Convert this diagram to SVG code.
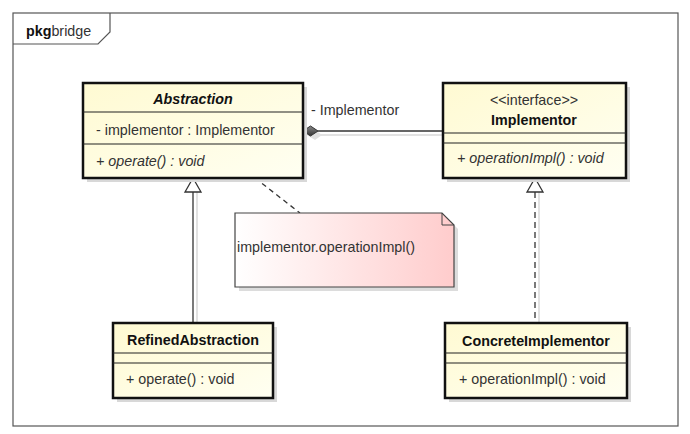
<svg xmlns="http://www.w3.org/2000/svg" width="690" height="434" viewBox="0 0 690 434">
<defs>
<linearGradient id="cls" x1="0" y1="0" x2="1" y2="1">
<stop offset="0" stop-color="#fffad2"/>
<stop offset="1" stop-color="#fffff2"/>
</linearGradient>
<linearGradient id="note" x1="0" y1="0" x2="1" y2="0">
<stop offset="0" stop-color="#ffffff"/>
<stop offset="1" stop-color="#ffcccc"/>
</linearGradient>
<linearGradient id="dia" x1="0" y1="0" x2="0" y2="1">
<stop offset="0" stop-color="#888"/>
<stop offset="1" stop-color="#333"/>
</linearGradient>
</defs>
<style>
text{font-family:"Liberation Sans",Arial,sans-serif;font-size:14.3px;fill:#333}
.name{font-weight:bold;fill:#111;text-anchor:middle}
.it{font-style:italic}
.mid{text-anchor:middle}
.box{fill:url(#cls);stroke:#111;stroke-width:2.5}
.sh{fill:#d8d8d8}
.sep{stroke:#222;stroke-width:1.2}
.ln{stroke:#333;stroke-width:1.3;fill:none}
.lsh{stroke:#e2e2e2;stroke-width:2;fill:none}
</style>
<rect width="690" height="434" fill="#fff"/>
<g id="frame">
<rect x="13" y="13" width="665" height="413" fill="none" stroke="#555" stroke-width="1.2"/>
<path d="M13,44 L98,44 L110,32 L110,13" fill="none" stroke="#555" stroke-width="1.2"/>
<text x="26" y="36"><tspan font-weight="bold" fill="#111">pkg</tspan>bridge</text>
</g>
<g id="connectors">
<path class="lsh" d="M197,192 V323 M539,192 V323 M321,135 H443"/>
<path class="ln" d="M193,192 V323"/>
<polygon points="193,178 185,192 201,192" fill="#fff" stroke="#333" stroke-width="1.3"/>
<path class="ln" d="M535,192 V323" stroke-dasharray="6,4" stroke-width="1.6"/>
<polygon points="535,178 527,192 543,192" fill="#fff" stroke="#333" stroke-width="1.3"/>
<path class="ln" d="M318,131 H443"/>
<polygon points="307,135 315,130 322,135 315,140" fill="#e0e0e0"/>
<polygon points="303,131 310.5,126 318,131 310.5,136" fill="url(#dia)" stroke="#333" stroke-width="1"/>
<text x="311" y="115">- Implementor</text>
<path class="ln" d="M255,178 L300,213" stroke-dasharray="5,4" stroke-width="1.5"/>
</g>
<g id="note1">
<path d="M239,217 L446,217 L458,229 L458,291 L239,291 Z" fill="#dcdcdc"/>
<path d="M235,213 L442,213 L454,225 L454,287 L235,287 Z" fill="url(#note)" stroke="#444" stroke-width="1.2"/>
<path d="M442,213 L442,225 L454,225" fill="none" stroke="#444" stroke-width="1"/>
<text x="237" y="252">implementor.operationImpl()</text>
</g>
<g id="Abstraction">
<rect class="sh" x="87" y="87" width="220" height="95"/>
<rect class="box" x="83" y="83" width="220" height="95"/>
<line class="sep" x1="83" y1="112" x2="303" y2="112"/>
<line class="sep" x1="83" y1="144" x2="303" y2="144"/>
<text class="name it" x="193" y="104">Abstraction</text>
<text x="96" y="135">- implementor : Implementor</text>
<text class="it" x="96" y="166">+ operate() : void</text>
</g>
<g id="Implementor">
<rect class="sh" x="447" y="87" width="183" height="95"/>
<rect class="box" x="443" y="83" width="183" height="95"/>
<line class="sep" x1="443" y1="133" x2="626" y2="133"/>
<line class="sep" x1="443" y1="143" x2="626" y2="143"/>
<text class="mid" x="534" y="105" font-size="13">&lt;&lt;interface&gt;&gt;</text>
<text class="name" x="534" y="125">Implementor</text>
<text class="it" x="457" y="163">+ operationImpl() : void</text>
</g>
<g id="RefinedAbstraction">
<rect class="sh" x="117" y="327" width="160" height="75"/>
<rect class="box" x="113" y="323" width="160" height="75"/>
<line class="sep" x1="113" y1="353" x2="273" y2="353"/>
<line class="sep" x1="113" y1="363" x2="273" y2="363"/>
<text class="name" x="193" y="345">RefinedAbstraction</text>
<text x="126" y="384">+ operate() : void</text>
</g>
<g id="ConcreteImplementor">
<rect class="sh" x="449" y="327" width="182" height="75"/>
<rect class="box" x="445" y="323" width="182" height="75"/>
<line class="sep" x1="445" y1="353" x2="627" y2="353"/>
<line class="sep" x1="445" y1="363" x2="627" y2="363"/>
<text class="name" x="536" y="346">ConcreteImplementor</text>
<text x="459" y="384">+ operationImpl() : void</text>
</g>
</svg>
